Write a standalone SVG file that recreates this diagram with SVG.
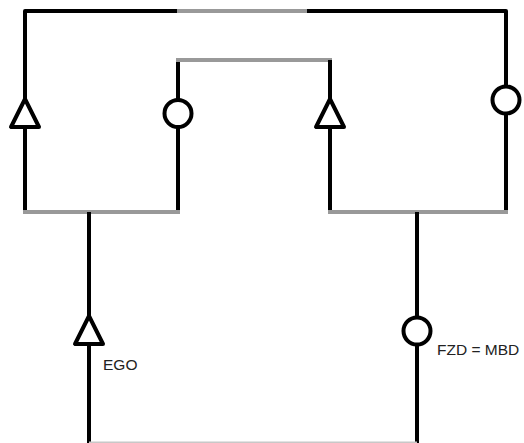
<svg xmlns="http://www.w3.org/2000/svg" width="524" height="443" viewBox="0 0 524 443">
<style>
.blk{fill:none;stroke:#000;stroke-width:4;stroke-linejoin:round;stroke-linecap:butt}
.gry{fill:none;stroke:#999;stroke-width:4;stroke-linecap:butt}
.thin{fill:none;stroke:#c8c8c8;stroke-width:1.5}
.sym{fill:#fff;stroke:#000;stroke-width:4;stroke-linejoin:round}
.lbl{font-family:"Liberation Sans",Arial,sans-serif;font-size:15.5px;fill:#222}
</style>
<rect width="524" height="443" fill="#fff"/>
<g id="connectors">
<path class="blk" d="M25,212 V11 H177"/>
<path class="gry" d="M177,11 H307"/>
<path class="blk" d="M307,11 H506 V212"/>
<path class="blk" d="M178,212 V60"/>
<path class="gry" d="M176,60 H332"/>
<path class="blk" d="M330,60 V212"/>
<path class="gry" d="M23,212 H180"/>
<path class="gry" d="M328,212 H508"/>
<path class="blk" d="M89,212 V443"/>
<path class="blk" d="M417,212 V443"/>
<path class="thin" d="M89,442.2 H417"/>
</g>
<g id="node-tri-left"><path class="sym" d="M25,99 L11,127 H39 Z"/></g>
<g id="node-circle-inner-left"><circle class="sym" cx="178" cy="113.5" r="13.5"/></g>
<g id="node-tri-inner-right"><path class="sym" d="M330,99 L316,127 H344 Z"/></g>
<g id="node-circle-right"><circle class="sym" cx="506" cy="100" r="13.5"/></g>
<g id="node-ego"><path class="sym" d="M89,316 L75,344 H103 Z"/><text class="lbl" x="103" y="370">EGO</text></g>
<g id="node-fzd"><circle class="sym" cx="417" cy="331" r="13.5"/><text class="lbl" x="437" y="355">FZD = MBD</text></g>
</svg>
